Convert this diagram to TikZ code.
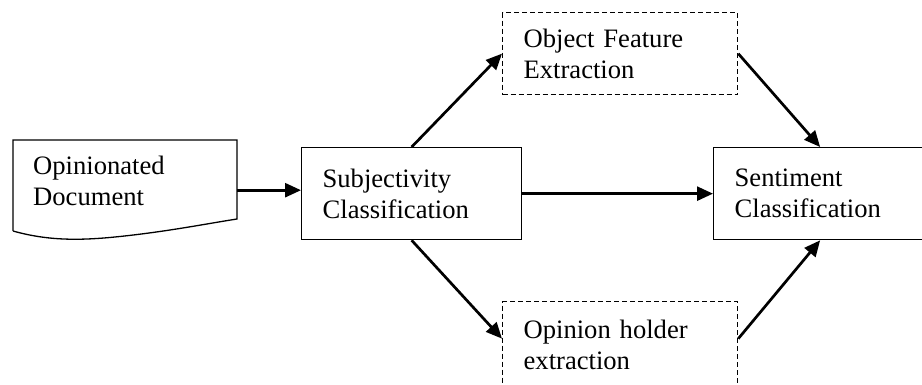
\documentclass[tikz,border=0pt]{standalone}
\usepackage{fontspec}
\setmainfont{Liberation Serif}
\usetikzlibrary{arrows.meta}
\begin{document}
\begin{tikzpicture}[x=1pt,y=-1pt,
  every node/.style={font=\fontsize{26.6}{31}\selectfont},
  box/.style={draw, line width=1.3pt, anchor=north west, align=left,
    inner xsep=21pt, inner ysep=0pt},
  dashbox/.style={box, dash pattern=on 5pt off 3pt},
  flow/.style={line width=2.7pt, -{Triangle[length=16pt,width=14pt]}}]
\useasboundingbox (0,0) rectangle (922,385);

% input document with a wavy lower edge
\node[anchor=north west, minimum width=224pt, minimum height=82pt,
  inner xsep=20pt, inner ysep=0pt, text width=184pt, align=left]
  (doc) at (13,140) {Opinionated\\Document};
\draw[line width=1.3pt] (13,231) -- (13,140) -- (237,140) -- (237,219)
  .. controls (205,224) and (165,232) .. (115,237)
  .. controls (75,241) and (45,240) .. (13,231);

% processing stages
\node[box, text width=178pt, minimum height=92pt] (subj) at (301,147)
  {Subjectivity\\Classification};
\node[dashbox, text width=193pt, minimum height=82pt] (obj) at (502,12)
  {Object Feature\\Extraction};
\node[dashbox, text width=193pt, minimum height=86pt] (hold) at (502,301)
  {Opinion holder\\extraction};
\node[box, text width=171pt, minimum height=92pt] (sent) at (713,147)
  {Sentiment\\Classification};

% flow between stages
\draw[flow] ([yshift=-9pt]doc.east) -- ([yshift=-9pt]doc.east -| subj.west);
\draw[flow] (subj.north) -- (obj.west);
\draw[flow] (subj.south) -- ([yshift=6pt]hold.west);
\draw[flow] (subj.east) -- (sent.west);
\draw[flow] (obj.east) -- (sent.north);
\draw[flow] ([yshift=6pt]hold.east) -- (sent.south);
\end{tikzpicture}
\end{document}
